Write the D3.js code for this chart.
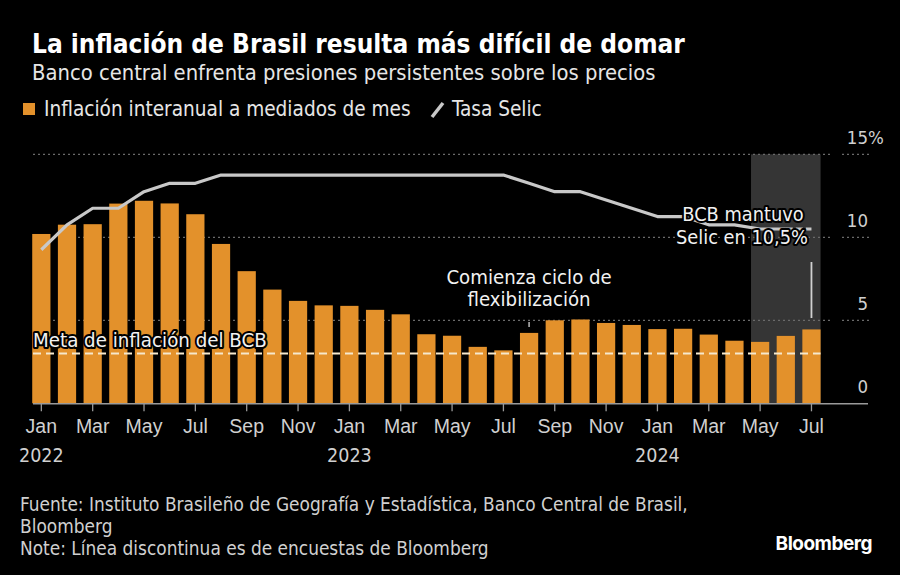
<!DOCTYPE html>
<html><head><meta charset="utf-8">
<script src="https://cdn.jsdelivr.net/npm/d3@7"></script>
<style>
html,body{margin:0;padding:0;background:#000;}
svg{display:block;font-family:"DejaVu Sans Condensed","DejaVu Sans",sans-serif;font-stretch:condensed;}
</style></head>
<body><svg id="c" width="900" height="575"></svg>
<script>
const months = ["2022-01","2022-02","2022-03","2022-04","2022-05","2022-06","2022-07","2022-08","2022-09","2022-10","2022-11","2022-12",
"2023-01","2023-02","2023-03","2023-04","2023-05","2023-06","2023-07","2023-08","2023-09","2023-10","2023-11","2023-12",
"2024-01","2024-02","2024-03","2024-04","2024-05","2024-06","2024-07"];
const inflation = [10.20,10.76,10.79,12.03,12.20,12.04,11.39,9.60,7.96,6.85,6.17,5.90,5.87,5.63,5.36,4.16,4.07,3.40,3.19,4.24,5.00,5.05,4.84,4.72,4.47,4.49,4.14,3.77,3.70,4.06,4.45];
const selic = [9.25,10.75,11.75,11.75,12.75,13.25,13.25,13.75,13.75,13.75,13.75,13.75,13.75,13.75,13.75,13.75,13.75,13.75,13.75,13.25,12.75,12.75,12.25,11.75,11.25,11.25,10.75,10.75,10.50,10.50,10.50];
const target = 3;
const yTicks = [0,5,10,15];
const monthNames = ["Jan","Feb","Mar","Apr","May","Jun","Jul","Aug","Sep","Oct","Nov","Dec"];
const tickMonths = months.filter((m,i)=>i%2===0);
const shadeStart = "2024-05", shadeEnd = "2024-07";
const easingStart = "2023-08";

const svg = d3.select("#c");
const x = d3.scaleBand().domain(months).range([28.5,824.3]).paddingInner(0.29).paddingOuter(0.145);
const y = d3.scaleLinear().domain([0,15]).range([403.3,154.3]);
const bw = x.bandwidth();
const cx = m => x(m)+bw/2;

// header
svg.append("text").attr("x",32).attr("y",53).attr("fill","#fff").attr("font-weight","bold").attr("font-size",26)
  .text("La inflación de Brasil resulta más difícil de domar");
svg.append("text").attr("x",32).attr("y",80).attr("fill","#e6e6e6").attr("font-size",21.8)
  .text("Banco central enfrenta presiones persistentes sobre los precios");
// legend
svg.append("rect").attr("x",23).attr("y",103).attr("width",12).attr("height",12).attr("fill","#e3912b");
svg.append("text").attr("x",44).attr("y",116).attr("fill","#e6e6e6").attr("font-size",20.6).text("Inflación interanual a mediados de mes");
svg.append("line").attr("x1",432).attr("y1",117).attr("x2",443).attr("y2",103).attr("stroke","#c8c8c8").attr("stroke-width",3.5);
svg.append("text").attr("x",452).attr("y",116).attr("fill","#e6e6e6").attr("font-size",20.6).text("Tasa Selic");

// shaded region
svg.append("rect").attr("x",x(shadeStart)).attr("y",y(15)).attr("width",x(shadeEnd)+bw-x(shadeStart)).attr("height",y(0)-y(15)).attr("fill","#353535");

// gridlines
const g = svg.append("g");
yTicks.filter(t=>t>0).forEach(t=>{
  g.append("line").attr("x1",33).attr("x2",830).attr("y1",y(t)).attr("y2",y(t)).attr("stroke","#6a6a6a").attr("stroke-width",1.2).attr("stroke-dasharray","2,3");
  g.append("line").attr("x1",842).attr("x2",870).attr("y1",y(t)).attr("y2",y(t)).attr("stroke","#6a6a6a").attr("stroke-width",1.2).attr("stroke-dasharray","2,3");
});
// y labels
yTicks.forEach(t=>{
  svg.append("text").attr("x",868).attr("y",y(t)-10).attr("text-anchor","end").attr("fill","#d0d0d0").attr("font-size",18.5).text(t);
  if(t===15) svg.append("text").attr("x",868).attr("y",y(t)-10).attr("fill","#d0d0d0").attr("font-size",18.5).text("%");
});

// bars
svg.append("g").selectAll("rect").data(months).join("rect")
  .attr("x",d=>x(d)).attr("width",bw)
  .attr("y",(d,i)=>y(inflation[i])).attr("height",(d,i)=>y(0)-y(inflation[i]))
  .attr("fill","#e3912b");

// target line
svg.append("line").attr("x1",33).attr("x2",x(shadeEnd)+bw).attr("y1",y(target)).attr("y2",y(target))
  .attr("stroke","#f6e8cc").attr("stroke-width",2.2).attr("stroke-dasharray","8,5");

// selic line
const line = d3.line().x(d=>cx(d.m)).y(d=>y(d.v));
const pts = months.map((m,i)=>({m,v:selic[i]}));
svg.append("path").datum(pts.slice(0,30)).attr("d",line).attr("fill","none").attr("stroke","#c8c8c8").attr("stroke-width",3.2).attr("stroke-linejoin","round");
svg.append("path").datum(pts.slice(29)).attr("d",line).attr("fill","none").attr("stroke","#c8c8c8").attr("stroke-width",3.2).attr("stroke-dasharray","7,3");

// axis
const axis = d3.axisBottom(x).tickValues(tickMonths).tickSize(8).tickPadding(8)
  .tickFormat(m=>monthNames[+m.slice(5)-1]);
const ag = svg.append("g").attr("transform",`translate(0,${y(0)})`).call(axis);
ag.select(".domain").remove();
ag.selectAll(".tick line").attr("stroke","#9a9a9a").attr("stroke-width",1.3);
ag.selectAll(".tick text").attr("fill","#d0d0d0").attr("font-size",19.5).attr("font-family",null);
svg.append("line").attr("x1",33).attr("x2",868).attr("y1",y(0)+0.5).attr("y2",y(0)+0.5).attr("stroke","#9a9a9a").attr("stroke-width",1.5);
tickMonths.filter(m=>m.endsWith("-01")).forEach(m=>{
  svg.append("text").attr("x",cx(m)).attr("y",462).attr("text-anchor","middle").attr("fill","#d0d0d0").attr("font-size",19.5).text(m.slice(0,4));
});

// annotations
function halo(sel){return sel.attr("stroke","#000").attr("stroke-width",4).attr("paint-order","stroke").attr("stroke-linejoin","round");}
halo(svg.append("text").attr("x",33).attr("y",347).attr("fill","#f2f2f2").attr("font-size",20.3).text("Meta de inflación del BCB"));
svg.append("text").attr("x",cx(easingStart)).attr("y",284).attr("text-anchor","middle").attr("fill","#f2f2f2").attr("font-size",20.2).text("Comienza ciclo de");
svg.append("text").attr("x",cx(easingStart)).attr("y",306).attr("text-anchor","middle").attr("fill","#f2f2f2").attr("font-size",20.2).text("flexibilización");
svg.append("line").attr("x1",cx(easingStart)).attr("x2",cx(easingStart)).attr("y1",322).attr("y2",327).attr("stroke","#bbb").attr("stroke-width",1.5);
halo(svg.append("text").attr("x",743).attr("y",221).attr("text-anchor","middle").attr("fill","#f2f2f2").attr("font-size",19.8).text("BCB mantuvo"));
halo(svg.append("text").attr("x",742).attr("y",244).attr("text-anchor","middle").attr("fill","#f2f2f2").attr("font-size",19.8).text("Selic en 10,5%"));
svg.append("line").attr("x1",cx(shadeEnd)).attr("x2",cx(shadeEnd)).attr("y1",262).attr("y2",318).attr("stroke","#d0d0d0").attr("stroke-width",1.8);

// footer
const foot = ["Fuente: Instituto Brasileño de Geografía y Estadística, Banco Central de Brasil,","Bloomberg","Note: Línea discontinua es de encuestas de Bloomberg"];
foot.forEach((t,i)=>svg.append("text").attr("x",20).attr("y",511+i*22).attr("fill","#d0d0d0").attr("font-size",18.9).text(t));
svg.append("text").attr("x",872).attr("y",550).attr("text-anchor","end").attr("fill","#fff").attr("font-weight","bold").attr("font-size",19).attr("font-family","Inter, 'Liberation Sans', sans-serif").attr("letter-spacing",-0.5).text("Bloomberg");
</script></body></html>
